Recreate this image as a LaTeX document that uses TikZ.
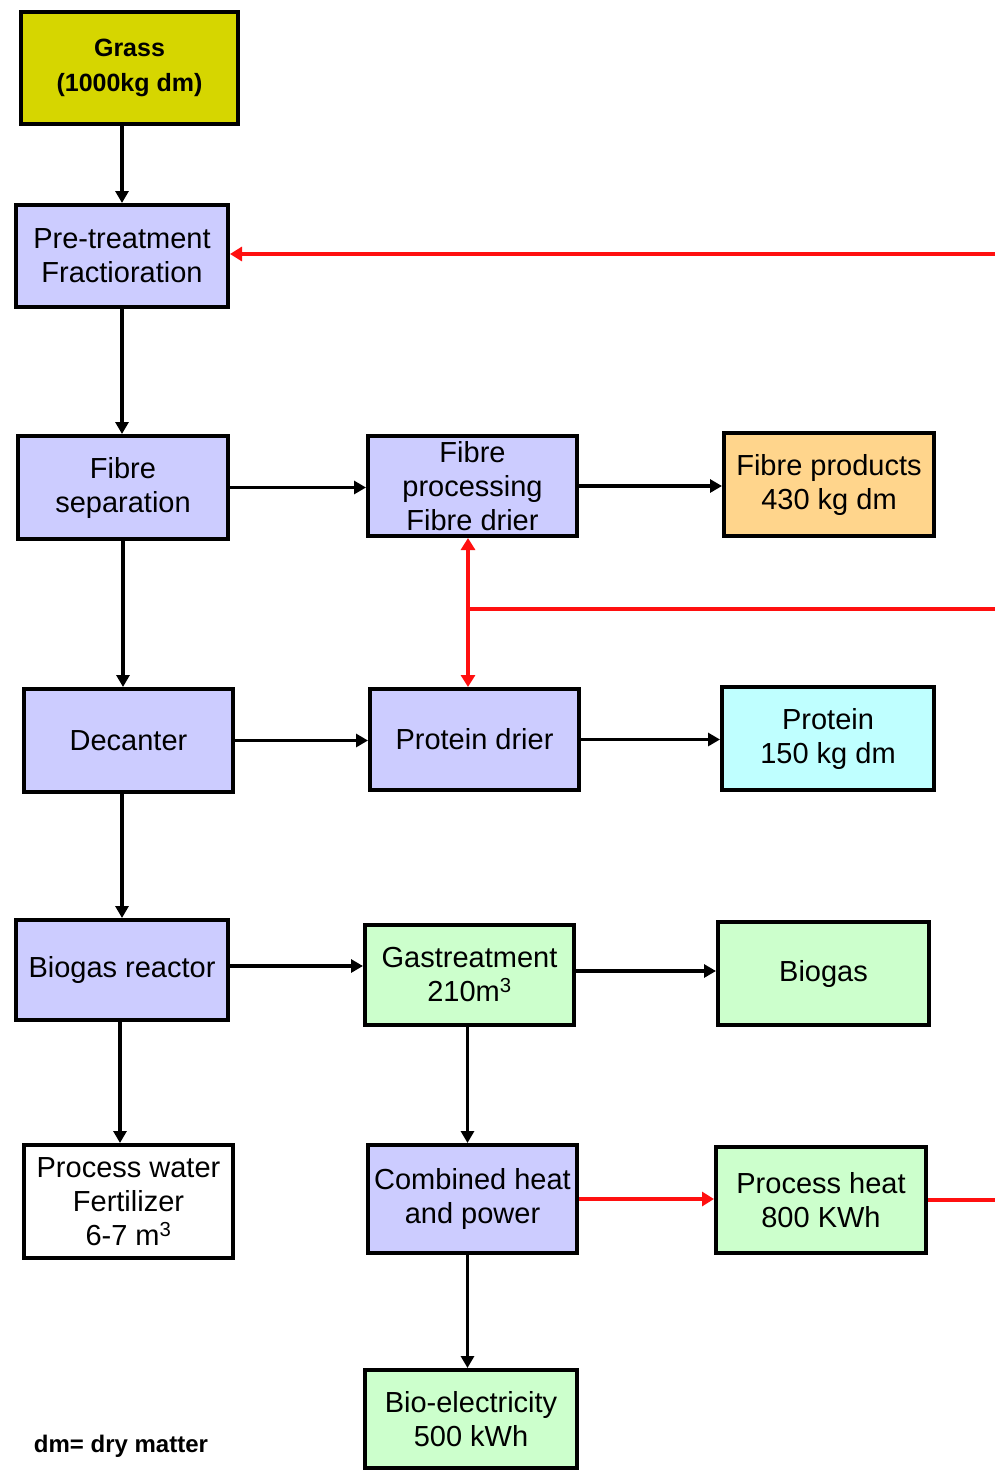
\documentclass[tikz,border=0pt]{standalone}
\usepackage{fontspec}
\setmainfont{Liberation Sans}
\usetikzlibrary{arrows.meta}
\definecolor{lav}{HTML}{CCCCFF}
\definecolor{grassy}{HTML}{D6D600}
\definecolor{fibreor}{HTML}{FFD58C}
\definecolor{protcy}{HTML}{BFFFFF}
\definecolor{gasgr}{HTML}{CCFFCC}
\definecolor{heatred}{HTML}{FF1010}
\begin{document}
\begin{tikzpicture}[x=1pt,y=-1pt,
  box/.style={draw=black, line width=4pt, inner sep=0pt, align=center,
    font=\fontsize{29}{34}\selectfont},
  flow/.style={line width=3.5pt, -{Triangle[length=12pt,width=13pt]}},
  heat/.style={line width=3.5pt, draw=heatred, -{Triangle[length=12pt,width=14pt]}},
  heatline/.style={line width=3.5pt, draw=heatred}]
\useasboundingbox[fill=white] (0,0) rectangle (995,1470);

% process boxes
\node[box, fill=grassy, minimum width=217pt, minimum height=112pt,
  font=\fontsize{25}{35}\selectfont\bfseries] (grass) at (129.5,68) {Grass\\(1000kg dm)};
\node[box, fill=lav, minimum width=212pt, minimum height=102pt] (pre) at (122,256) {Pre-treatment\\Fractioration};
\node[box, fill=lav, minimum width=210pt, minimum height=103pt] (fsep) at (123,487.5) {Fibre\\separation};
\node[box, fill=lav, minimum width=209pt, minimum height=100pt] (fproc) at (472.5,486) {Fibre\\processing\\Fibre drier};
\node[box, fill=fibreor, minimum width=210pt, minimum height=103pt] (fprod) at (829,484.5) {Fibre products\\430 kg dm};
\node[box, fill=lav, minimum width=209pt, minimum height=103pt] (dec) at (128.5,740.5) {Decanter};
\node[box, fill=lav, minimum width=209pt, minimum height=101pt] (pdr) at (474.5,739.5) {Protein drier};
\node[box, fill=protcy, minimum width=212pt, minimum height=103pt] (prot) at (828,738.5) {Protein\\150 kg dm};
\node[box, fill=lav, minimum width=212pt, minimum height=100pt] (brx) at (122,970) {Biogas reactor};
\node[box, fill=gasgr, minimum width=209pt, minimum height=100pt] (gas) at (469.5,975) {Gastreatment\\210m\textsuperscript{3}};
\node[box, fill=gasgr, minimum width=211pt, minimum height=103pt] (biog) at (823.5,973.5) {Biogas};
\node[box, fill=white, minimum width=209pt, minimum height=113pt] (pw) at (128.5,1201.5) {Process water\\Fertilizer\\6-7 m\textsuperscript{3}};
\node[box, fill=lav, minimum width=209pt, minimum height=108pt] (chp) at (472.5,1199) {Combined heat\\and power};
\node[box, fill=gasgr, minimum width=210pt, minimum height=106pt] (ph) at (821,1200) {Process heat\\800 KWh};
\node[box, fill=gasgr, minimum width=212pt, minimum height=98pt] (bel) at (471,1419) {Bio-electricity\\500 kWh};
\node[font=\fontsize{24}{28}\selectfont\bfseries] (note) at (121,1446) {dm= dry matter};

% heat return points at the right edge
\coordinate (edgeA) at (995,254);
\coordinate (edgeB) at (995,609);
\coordinate (edgeC) at (995,1200);
\coordinate (split) at (468,609);

% material flow
\draw[flow] (grass.south -| pre.north) -- (pre.north);
\draw[flow] (pre.south) -- (pre.south |- fsep.north);
\draw[flow] (fsep.east) -- (fsep.east -| fproc.west);
\draw[flow] (fproc.east) -- (fproc.east -| fprod.west);
\draw[flow] (fsep.south) -- (fsep.south |- dec.north);
\draw[flow] (dec.east) -- (dec.east -| pdr.west);
\draw[flow] (pdr.east) -- (pdr.east -| prot.west);
\draw[flow] (dec.south -| brx.north) -- (brx.north);
\draw[flow] ([yshift=4pt]brx.east) -- ([yshift=4pt]brx.east -| gas.west);
\draw[flow] ([yshift=4pt]gas.east) -- ([yshift=4pt]gas.east -| biog.west);
\draw[flow] ([xshift=-2pt]brx.south) -- ([xshift=-2pt]brx.south |- pw.north);
\draw[flow] ([xshift=-2pt]gas.south) -- ([xshift=-2pt]gas.south |- chp.north);
\draw[flow] ([xshift=-5pt]chp.south) -- ([xshift=-5pt]chp.south |- bel.north);

% heat flow
\draw[heat] (chp.east) -- (chp.east -| ph.west);
\draw[heatline] (ph.east) -- (edgeC);
\draw[heat] (edgeA) -- (edgeA -| pre.east);
\draw[heatline] (edgeB) -- (split);
\draw[heat, {Triangle[length=12pt,width=14pt]}-{Triangle[length=12pt,width=14pt]}] (fproc.south -| split) -- (pdr.north -| split);
\end{tikzpicture}
\end{document}
